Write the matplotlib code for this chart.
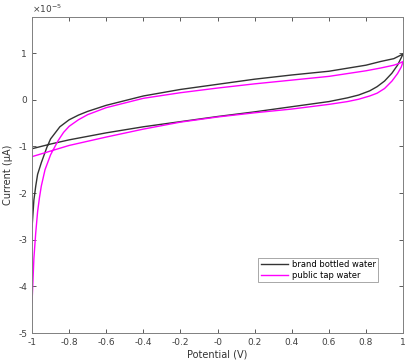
import numpy as np
import matplotlib.pyplot as plt
from matplotlib.ticker import ScalarFormatter, FuncFormatter

# brand bottled water (forward scan, then reverse scan), current in units of 1e-5
bottled_fwd_x = [-1, -0.9, -0.8, -0.6, -0.4, -0.2, 0, 0.2, 0.4, 0.6, 0.7, 0.76, 0.82, 0.86, 0.9, 0.94, 0.97, 1.0]
bottled_fwd_y = [-1.05, -0.95, -0.86, -0.71, -0.58, -0.47, -0.36, -0.26, -0.15, -0.04, 0.04, 0.1, 0.19, 0.28, 0.4, 0.57, 0.74, 0.98]
bottled_rev_x = [1.0, 0.95, 0.88, 0.8, 0.6, 0.4, 0.2, 0, -0.2, -0.4, -0.6, -0.7, -0.75, -0.8, -0.85, -0.9, -0.92, -0.95, -0.97, -0.98, -0.99, -1.0]
bottled_rev_y = [0.98, 0.88, 0.82, 0.74, 0.61, 0.53, 0.44, 0.33, 0.22, 0.08, -0.12, -0.25, -0.33, -0.43, -0.58, -0.84, -1.02, -1.35, -1.6, -1.85, -2.15, -2.74]

# public tap water
tap_fwd_x = [-1, -0.9, -0.8, -0.6, -0.4, -0.2, 0, 0.2, 0.4, 0.6, 0.7, 0.76, 0.82, 0.86, 0.9, 0.94, 0.97, 0.99, 1.0]
tap_fwd_y = [-1.22, -1.1, -0.98, -0.8, -0.63, -0.48, -0.37, -0.28, -0.2, -0.1, -0.04, 0.01, 0.08, 0.14, 0.24, 0.4, 0.56, 0.7, 0.82]
tap_rev_x = [1.0, 0.98, 0.95, 0.88, 0.8, 0.6, 0.4, 0.2, 0, -0.2, -0.4, -0.6, -0.7, -0.75, -0.8, -0.83, -0.86, -0.9, -0.93, -0.95, -0.96, -0.97, -0.98, -0.99, -1.0]
tap_rev_y = [0.82, 0.78, 0.74, 0.68, 0.62, 0.5, 0.42, 0.34, 0.25, 0.15, 0.03, -0.17, -0.32, -0.43, -0.57, -0.7, -0.88, -1.18, -1.5, -1.85, -2.1, -2.4, -2.85, -3.4, -4.35]

scale = 1e-5

fig = plt.figure(figsize=(4.16, 3.64), dpi=100)
ax = fig.add_axes([0.077, 0.085, 0.892, 0.868])

bx = bottled_fwd_x + bottled_rev_x
by = np.array(bottled_fwd_y + bottled_rev_y) * scale
tx = tap_fwd_x + tap_rev_x
ty = np.array(tap_fwd_y + tap_rev_y) * scale

ax.plot(bx, by, color="#333333", lw=1.0, label="brand bottled water")
ax.plot(tx, ty, color="#ff00ff", lw=1.0, label="public tap water")

ax.set_xlim(-1, 1)
ax.set_ylim(-5e-5, 1.77e-5)
ax.set_xticks(np.arange(-1, 1.01, 0.2))
ax.set_yticks(np.arange(-5, 1.1, 1) * scale)

ax.xaxis.set_major_formatter(FuncFormatter(lambda v, p: "%g" % round(v, 2)))


class PlainSci(ScalarFormatter):
    def __call__(self, x, pos=None):
        return "%g" % round(x / 10 ** self.orderOfMagnitude, 3)


fmt = PlainSci(useMathText=True)
fmt.set_powerlimits((0, 0))
ax.yaxis.set_major_formatter(fmt)
ax.yaxis.get_offset_text().set_fontsize(6.5)
ax.yaxis.get_offset_text().set_color("#404040")

ax.tick_params(direction="in", top=True, right=True, labelsize=6.5,
               colors="#404040", length=3, width=0.6)
for s in ax.spines.values():
    s.set_color("#808080")
    s.set_linewidth(0.7)

ax.set_xlabel("Potential (V)", fontsize=7, color="#333333", labelpad=2)
ax.set_ylabel("Current (μA)", fontsize=7, color="#333333", labelpad=4)

leg = ax.legend(loc="lower right", bbox_to_anchor=(0.933, 0.161), borderaxespad=0,
                fontsize=6, frameon=True, fancybox=False, handlelength=3.2,
                borderpad=0.3, labelspacing=0.2, handletextpad=0.5)
leg.get_frame().set_edgecolor("#808080")
leg.get_frame().set_linewidth(0.6)

plt.savefig("out.png", dpi=100)
